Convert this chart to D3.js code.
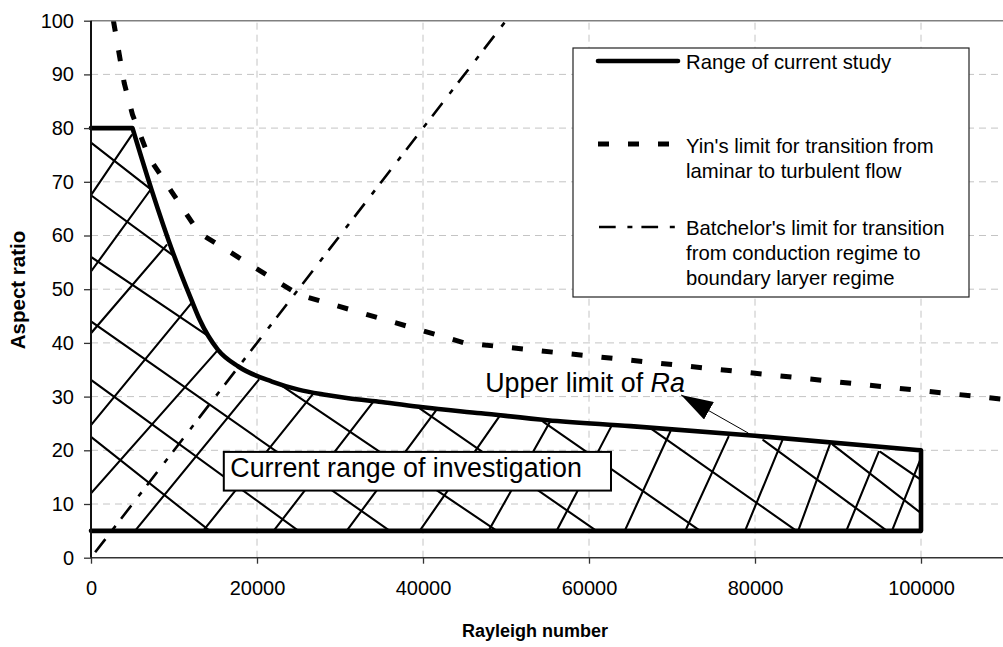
<!DOCTYPE html>
<html><head><meta charset="utf-8">
<script src="https://cdn.jsdelivr.net/npm/d3@7"></script>
<style>
body{margin:0;background:#fff;}
svg{display:block;font-family:"Liberation Sans",Arial,sans-serif;}
</style>
</head><body>
<svg id="c" width="1003" height="647"></svg>
<script>
// ---------------- data ----------------
const xTicks = [0, 20000, 40000, 60000, 80000, 100000];
const yTicks = [0, 10, 20, 30, 40, 50, 60, 70, 80, 90, 100];
const xGrid = [20000, 40000, 60000, 80000, 100000];
const yGrid = [10, 20, 30, 40, 50, 60, 70, 80, 90];

// Range of current study (thick outline)
const rangeTopRa = [0, 5000];
const rangeTopAR = [80, 80];
const rangeCurveRa = [5000, 7300, 9900, 12100, 13100, 15300, 17750, 21800, 25000, 28000, 31000, 35000, 40000, 47000, 55000, 65000, 80000, 100000];
const rangeCurveAR = [80, 68.5, 56.7, 48, 44.3, 38.7, 35.6, 32.8, 31.3, 30.4, 29.7, 29.0, 28.0, 26.9, 25.6, 24.5, 22.7, 20];
const rangeRightRa = [100000, 100000, 0];
const rangeRightAR = [20, 5, 5];

// Yin's limit for transition from laminar to turbulent flow
const yinRa = [2700, 4000, 5000, 7000, 13000, 25000, 45000, 110000];
const yinAR = [100, 88.4, 82.5, 74.5, 60.5, 49, 40, 29.5];

// Batchelor's limit
const batRa = [500, 50000];
const batAR = [1, 100];

// Hatching (hand-drawn lines inside the range), [Ra, AR] end points
const hatchDown = [
  [[0, 77.3], [7300, 68.5]],
  [[0, 67.5], [9800, 56.4]],
  [[0, 56.0], [48900, 5]],
  [[0, 44.0], [36000, 5]],
  [[0, 33.1], [25000, 5]],
  [[0, 22.5], [14300, 5]],
  [[39600, 27.8], [60900, 5]],
  [[54500, 25.3], [73400, 5]],
  [[67600, 23.9], [85000, 5]],
  [[81000, 21.9], [95900, 5]],
  [[89400, 21.0], [100000, 8.3]],
  [[95100, 19.7], [100000, 14.5]]
];
const hatchUp = [
  [[0, 67.5], [4900, 78.7]],
  [[0, 53.3], [7300, 68.8]],
  [[0, 41.8], [9100, 58.2]],
  [[0, 24.7], [12100, 47.4]],
  [[0, 12.0], [15300, 38.7]],
  [[5300, 5], [20200, 33.1]],
  [[13500, 5], [26800, 30.6]],
  [[22000, 5], [34000, 29.0]],
  [[30800, 5], [41800, 27.9]],
  [[39600, 5], [49200, 26.3]],
  [[47900, 5], [55300, 25.3]],
  [[56100, 5], [62700, 24.5]],
  [[64300, 5], [69800, 23.5]],
  [[71600, 5], [76800, 22.5]],
  [[78800, 5], [83300, 21.9]],
  [[85200, 5], [89000, 21.0]],
  [[91000, 5], [94900, 19.7]],
  [[96500, 5], [100000, 18.6]]
];

// Annotations
const arrowFrom = [79200, 23.2];
const arrowTo = [71100, 30.3];
const upperLabelAt = [47500, 30.9];
const boxLabelAt = [16000, 19.7, 62650, 12.5]; // left, top, right, bottom
const legendLabels = [
  ["Range of current study"],
  ["Yin's limit for transition from", "laminar to turbulent flow"],
  ["Batchelor's limit for transition", "from conduction regime to", "boundary laryer regime"]
];

// ---------------- chart ----------------
const svg = d3.select("#c");
const x = d3.scaleLinear().domain([0, 110000]).range([91, 1004]);
const y = d3.scaleLinear().domain([0, 100]).range([557.7, 20.7]);
const BAT_DASH = "16.7,11.7,5,9";
const YIN_DASH = "11,19";

svg.append("rect").attr("width", 1003).attr("height", 647).attr("fill", "#fff");

// clip for plot area
const defs = svg.append("defs");
defs.append("clipPath").attr("id", "plotClip").append("rect")
  .attr("x", x(0)).attr("y", y(100)).attr("width", x(110000) - x(0)).attr("height", y(0) - y(100));

// grid
const grid = svg.append("g").attr("stroke", "#c4c4c4").attr("stroke-width", 1).attr("stroke-dasharray", "7,5");
grid.selectAll(".gx").data(xGrid).join("line")
  .attr("x1", d => x(d)).attr("x2", d => x(d)).attr("y1", y(0)).attr("y2", y(100));
grid.selectAll(".gy").data(yGrid).join("line")
  .attr("x1", x(0)).attr("x2", x(110000)).attr("y1", d => y(d)).attr("y2", d => y(d));

// polygon for the hatch clip
const curveLine = d3.line().x((d, i) => x(rangeCurveRa[i])).y((d, i) => y(rangeCurveAR[i])).curve(d3.curveMonotoneX);
const curveD = curveLine(rangeCurveRa);
const polyD = `M${x(rangeTopRa[0])},${y(rangeTopAR[0])}L` + curveD.slice(1) +
  rangeRightRa.map((r, i) => `L${x(r)},${y(rangeRightAR[i])}`).join("") + "Z";
defs.append("clipPath").attr("id", "rangeClip").append("path").attr("d", polyD);

// hatching
const hatch = svg.append("g").attr("clip-path", "url(#rangeClip)")
  .attr("stroke", "#000").attr("stroke-width", 2.1).attr("stroke-linecap", "round");
hatch.selectAll(".hd").data(hatchDown.concat(hatchUp)).join("line")
  .attr("x1", d => x(d[0][0])).attr("y1", d => y(d[0][1]))
  .attr("x2", d => x(d[1][0])).attr("y2", d => y(d[1][1]));

const plot = svg.append("g").attr("clip-path", "url(#plotClip)");

// Yin's limit
plot.append("path")
  .attr("d", d3.line().x((d, i) => x(yinRa[i])).y((d, i) => y(yinAR[i]))(yinRa))
  .attr("fill", "none").attr("stroke", "#000").attr("stroke-width", 5).attr("stroke-dasharray", YIN_DASH);

// Batchelor's limit
plot.append("path")
  .attr("d", d3.line().x((d, i) => x(batRa[i])).y((d, i) => y(batAR[i]))(batRa))
  .attr("fill", "none").attr("stroke", "#000").attr("stroke-width", 2.6).attr("stroke-dasharray", BAT_DASH);

// range outline
const topD = d3.line().x((d, i) => x(rangeTopRa[i])).y((d, i) => y(rangeTopAR[i]))(rangeTopRa);
const rightD = d3.line().x((d, i) => x(rangeRightRa[i])).y((d, i) => y(rangeRightAR[i]))(rangeRightRa);
svg.append("path").attr("d", topD + "L" + curveD.slice(1) + "L" + rightD.slice(1))
  .attr("fill", "none").attr("stroke", "#000").attr("stroke-width", 4.6)
  .attr("stroke-linejoin", "round").attr("stroke-linecap", "round");

// plot border (top / right)
svg.append("line").attr("x1", x(0)).attr("x2", x(110000)).attr("y1", y(100)).attr("y2", y(100))
  .attr("stroke", "#808080").attr("stroke-width", 1.6);
svg.append("line").attr("x1", x(110000)).attr("x2", x(110000)).attr("y1", y(100)).attr("y2", y(0))
  .attr("stroke", "#808080").attr("stroke-width", 1.6);

// axes
const fmt = d3.format("d");
const ax = svg.append("g").attr("transform", `translate(0,${y(0)})`)
  .call(d3.axisBottom(x).tickValues(xTicks).tickFormat(fmt).tickSize(6).tickSizeOuter(0).tickPadding(17));
ax.select(".domain").remove();
ax.append("line").attr("x1", x(0)).attr("x2", x(110000)).attr("stroke", "#333").attr("stroke-width", 1.6);
ax.selectAll(".tick line").attr("stroke", "#333").attr("stroke-width", 1.3);
ax.selectAll("text").attr("font-size", 20).attr("fill", "#000").attr("font-family", "Liberation Sans, Arial, sans-serif");

const ay = svg.append("g").attr("transform", `translate(${x(0)},0)`)
  .call(d3.axisLeft(y).tickValues(yTicks).tickFormat(fmt).tickSize(7).tickSizeOuter(0).tickPadding(10));
ay.select(".domain").remove();
ay.append("line").attr("y1", y(0)).attr("y2", y(100)).attr("stroke", "#111").attr("stroke-width", 2);
ay.selectAll(".tick line").attr("stroke", "#333").attr("stroke-width", 1.3);
ay.selectAll("text").attr("font-size", 20).attr("fill", "#000").attr("font-family", "Liberation Sans, Arial, sans-serif");

// axis titles
svg.append("text").attr("x", 535).attr("y", 637).attr("text-anchor", "middle")
  .attr("font-size", 18).attr("font-weight", "bold").text("Rayleigh number");
svg.append("text").attr("transform", "translate(25,290) rotate(-90)").attr("text-anchor", "middle")
  .attr("font-size", 20.5).attr("font-weight", "bold").text("Aspect ratio");

// "Current range of investigation" box
const bx0 = x(boxLabelAt[0]), by0 = y(boxLabelAt[1]), bx1 = x(boxLabelAt[2]), by1 = y(boxLabelAt[3]);
svg.append("rect").attr("x", bx0).attr("y", by0).attr("width", bx1 - bx0).attr("height", by1 - by0)
  .attr("fill", "#fff").attr("stroke", "#000").attr("stroke-width", 2);
svg.append("text").attr("x", bx0 + 6.5).attr("y", by0 + 25.3).attr("font-size", 26.8)
  .text("Current range of investigation");

// Arrow annotation
defs.append("marker").attr("id", "arrowHead").attr("markerUnits", "userSpaceOnUse")
  .attr("viewBox", "0 0 32 20").attr("refX", 32).attr("refY", 10)
  .attr("markerWidth", 32).attr("markerHeight", 20).attr("orient", "auto")
  .append("path").attr("d", "M0,0L32,10L0,20Z").attr("fill", "#000");
svg.append("line").attr("x1", x(arrowFrom[0])).attr("y1", y(arrowFrom[1]))
  .attr("x2", x(arrowTo[0])).attr("y2", y(arrowTo[1]))
  .attr("stroke", "#000").attr("stroke-width", 1).attr("marker-end", "url(#arrowHead)");
const ut = svg.append("text").attr("x", x(upperLabelAt[0])).attr("y", y(upperLabelAt[1])).attr("font-size", 26.8);
ut.append("tspan").text("Upper limit of ");
ut.append("tspan").attr("font-style", "italic").text("Ra");

// Legend
const lg = svg.append("g");
lg.append("rect").attr("x", 573).attr("y", 48).attr("width", 396).attr("height", 249)
  .attr("fill", "#fff").attr("stroke", "#222").attr("stroke-width", 1.2);
lg.append("line").attr("x1", 598).attr("x2", 678).attr("y1", 61).attr("y2", 61)
  .attr("stroke", "#000").attr("stroke-width", 4.6).attr("stroke-linecap", "round");
lg.append("line").attr("x1", 598).attr("x2", 671).attr("y1", 144).attr("y2", 144)
  .attr("stroke", "#000").attr("stroke-width", 5).attr("stroke-dasharray", YIN_DASH);
lg.append("line").attr("x1", 599).attr("x2", 676).attr("y1", 227).attr("y2", 227)
  .attr("stroke", "#000").attr("stroke-width", 2.6).attr("stroke-dasharray", BAT_DASH);
const legendBaselines = [69, 153, 235];
legendLabels.forEach((lines, k) => {
  const t = lg.append("text").attr("x", 686).attr("y", legendBaselines[k]).attr("font-size", 20.3);
  lines.forEach((s, j) => t.append("tspan").attr("x", 686).attr("dy", j === 0 ? 0 : 25).text(s));
});
</script>
</body></html>
